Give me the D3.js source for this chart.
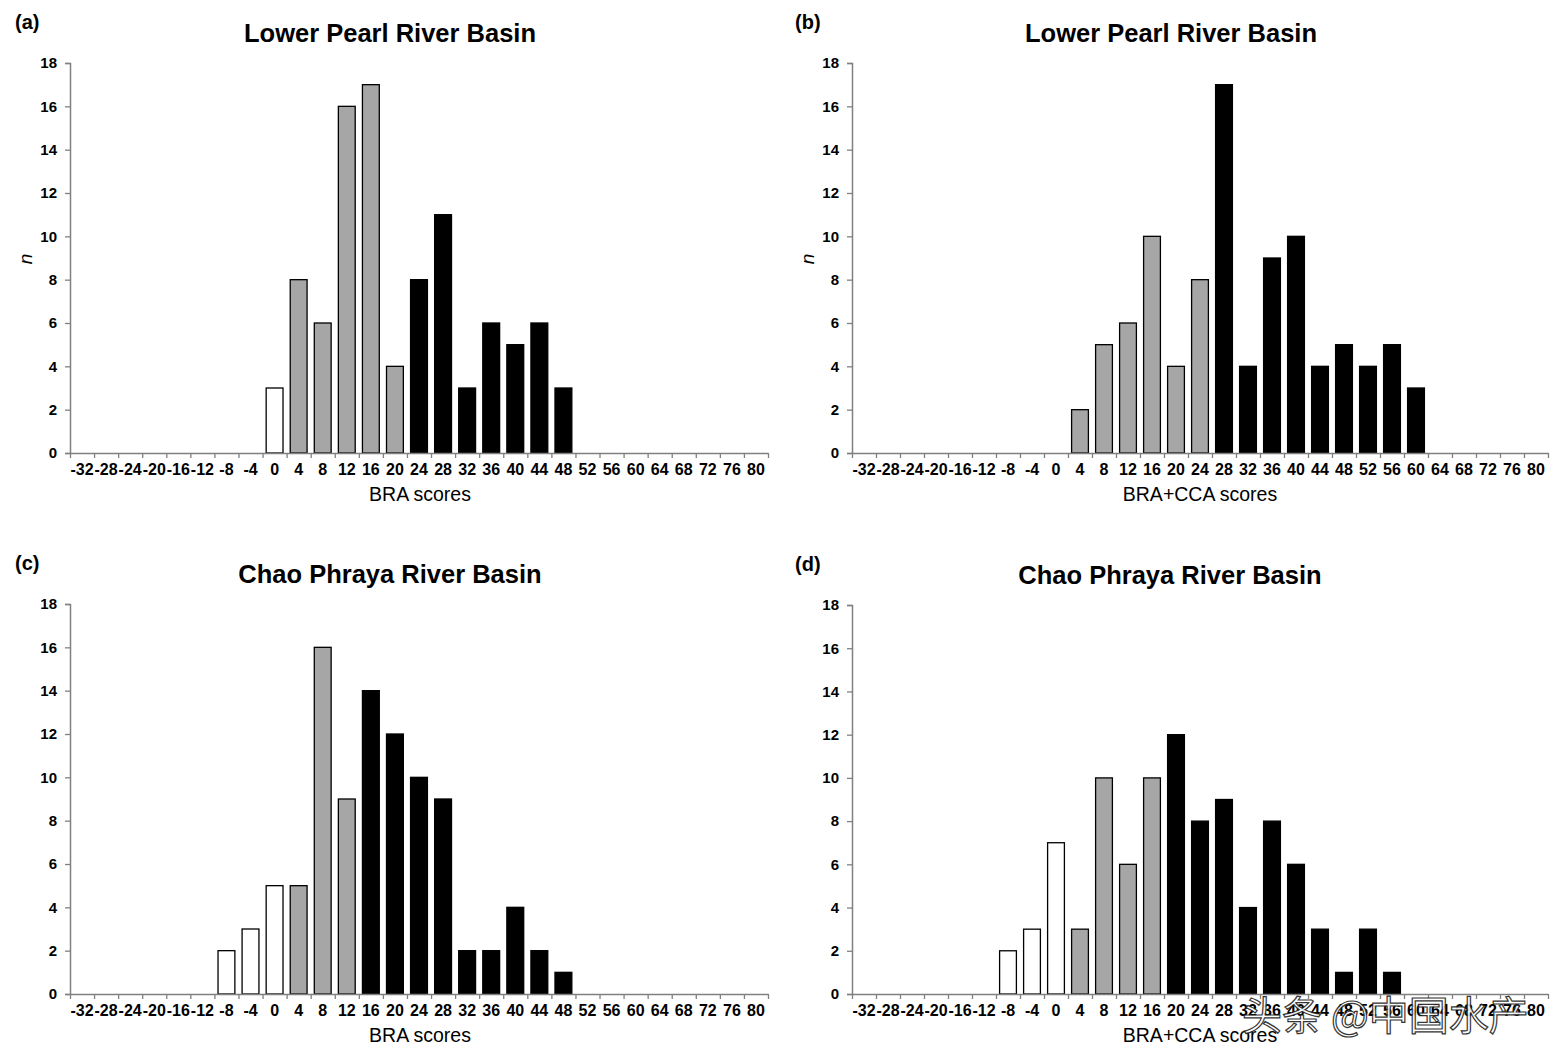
<!DOCTYPE html>
<html>
<head>
<meta charset="utf-8">
<script src="https://cdn.jsdelivr.net/npm/d3@7"></script>
<style>
  body { margin: 0; background: #fff; }
  svg { font-family: "Liberation Sans", Arial, sans-serif; }
</style>
</head>
<body>
<main></main>
<script>
const w = 1561;
const h = 1061;

// score classes on the x axis, -32 .. 80 step 4
const scores = [-32, -28, -24, -20, -16, -12, -8, -4, 0, 4, 8, 12, 16, 20, 24, 28, 32, 36, 40, 44, 48, 52, 56, 60, 64, 68, 72, 76, 80];
const yTicks = [0, 2, 4, 6, 8, 10, 12, 14, 16, 18];

// counts per class: [score, n, group] group: 0 white, 1 grey, 2 black
const pearlBRA = [
    [0, 3, 0],
    [4, 8, 1], [8, 6, 1], [12, 16, 1], [16, 17, 1], [20, 4, 1],
    [24, 8, 2], [28, 11, 2], [32, 3, 2], [36, 6, 2], [40, 5, 2], [44, 6, 2], [48, 3, 2]
];
const pearlBRACCA = [
    [4, 2, 1], [8, 5, 1], [12, 6, 1], [16, 10, 1], [20, 4, 1], [24, 8, 1],
    [28, 17, 2], [32, 4, 2], [36, 9, 2], [40, 10, 2], [44, 4, 2], [48, 5, 2], [52, 4, 2], [56, 5, 2], [60, 3, 2]
];
const chaoBRA = [
    [-8, 2, 0], [-4, 3, 0], [0, 5, 0],
    [4, 5, 1], [8, 16, 1], [12, 9, 1],
    [16, 14, 2], [20, 12, 2], [24, 10, 2], [28, 9, 2], [32, 2, 2], [36, 2, 2], [40, 4, 2], [44, 2, 2], [48, 1, 2]
];
const chaoBRACCA = [
    [-8, 2, 0], [-4, 3, 0], [0, 7, 0],
    [4, 3, 1], [8, 10, 1], [12, 6, 1], [16, 10, 1],
    [20, 12, 2], [24, 8, 2], [28, 9, 2], [32, 4, 2], [36, 8, 2], [40, 6, 2], [44, 3, 2], [48, 1, 2], [52, 3, 2], [56, 1, 2]
];

const fills = ["#ffffff", "#a6a6a6", "#000000"];

const panels = [
    { tag: "(a)", title: "Lower Pearl River Basin", xTitle: "BRA scores", data: pearlBRA,
      left: 70, right: 768, top: 63, bottom: 453, ylab: true, tagX: 15, titleX: 390, xtX: 420 },
    { tag: "(b)", title: "Lower Pearl River Basin", xTitle: "BRA+CCA scores", data: pearlBRACCA,
      left: 852, right: 1548, top: 63, bottom: 453, ylab: true, tagX: 795, titleX: 1171, xtX: 1200 },
    { tag: "(c)", title: "Chao Phraya River Basin", xTitle: "BRA scores", data: chaoBRA,
      left: 70, right: 768, top: 604, bottom: 994, ylab: false, tagX: 15, titleX: 390, xtX: 420 },
    { tag: "(d)", title: "Chao Phraya River Basin", xTitle: "BRA+CCA scores", data: chaoBRACCA,
      left: 852, right: 1548, top: 605, bottom: 994, ylab: false, tagX: 795, titleX: 1170, xtX: 1200 }
];

const svg = d3.select("main")
    .append("svg")
    .attr("width", w)
    .attr("height", h);

panels.forEach(p => {
    const g = svg.append("g");

    const xScale = d3.scaleBand()
        .domain(scores)
        .range([p.left, p.right])
        .paddingInner(0.3)
        .paddingOuter(0.15);

    const edgeScale = d3.scaleLinear()
        .domain([0, scores.length])
        .range([p.left, p.right]);

    const yScale = d3.scaleLinear()
        .domain([0, 18])
        .range([p.bottom, p.top]);

    // bars
    g.selectAll("rect")
        .data(p.data)
        .enter()
        .append("rect")
        .attr("x", d => xScale(d[0]))
        .attr("y", d => yScale(d[1]))
        .attr("width", xScale.bandwidth())
        .attr("height", d => p.bottom - yScale(d[1]))
        .attr("fill", d => fills[d[2]])
        .attr("stroke", "#000")
        .attr("stroke-width", 1.3);

    // y axis
    const yAxis = g.append("g")
        .attr("transform", "translate(" + p.left + ",0)")
        .call(d3.axisLeft(yScale).tickValues(yTicks).tickSize(5).tickPadding(8));
    yAxis.select(".domain").attr("stroke", "#808080").attr("stroke-width", 1.5);
    yAxis.selectAll(".tick line").attr("stroke", "#808080").attr("stroke-width", 1.3);
    yAxis.selectAll("text")
        .attr("font-size", 15)
        .attr("font-weight", "bold")
        .attr("fill", "#000")
        .attr("font-family", "Liberation Sans, Arial, sans-serif");

    // x axis: ticks on class boundaries
    const xEdges = g.append("g")
        .attr("transform", "translate(0," + p.bottom + ")")
        .call(d3.axisBottom(edgeScale).tickValues(d3.range(scores.length + 1)).tickFormat("").tickSize(5).tickSizeOuter(0));
    xEdges.select(".domain").attr("stroke", "#808080").attr("stroke-width", 1.5);
    xEdges.selectAll(".tick line").attr("stroke", "#808080").attr("stroke-width", 1.3);

    const xLabels = g.append("g")
        .attr("transform", "translate(0," + p.bottom + ")")
        .call(d3.axisBottom(xScale).tickSize(0).tickPadding(11));
    xLabels.select(".domain").remove();
    xLabels.selectAll("text")
        .attr("font-size", 16)
        .attr("font-weight", "bold")
        .attr("fill", "#000")
        .attr("font-family", "Liberation Sans, Arial, sans-serif");

    // titles
    g.append("text")
        .attr("x", p.titleX)
        .attr("y", p.top - 21)
        .attr("text-anchor", "middle")
        .attr("font-size", 25.5)
        .attr("font-weight", "bold")
        .text(p.title);

    g.append("text")
        .attr("x", p.tagX)
        .attr("y", p.top - 34)
        .attr("font-size", 20)
        .attr("font-weight", "bold")
        .text(p.tag);

    g.append("text")
        .attr("x", p.xtX)
        .attr("y", p.bottom + 48)
        .attr("text-anchor", "middle")
        .attr("font-size", 19.5)
        .text(p.xTitle);

    if (p.ylab) {
        g.append("text")
            .attr("transform", "translate(" + (p.left - 38) + "," + ((p.top + p.bottom) / 2 + 1) + ") rotate(-90)")
            .attr("text-anchor", "middle")
            .attr("font-size", 19)
            .attr("font-style", "italic")
            .text("n");
    }
});

// watermark
svg.append("text")
    .attr("x", 1242)
    .attr("y", 1030)
    .attr("font-size", 40)
    .attr("font-family", "Noto Sans CJK SC, sans-serif")
    .attr("fill", "#fff")
    .attr("stroke", "#222")
    .attr("stroke-width", 1.2)
    .attr("opacity", 0.9)
    .text("头条 @中国水产");
</script>
</body>
</html>
